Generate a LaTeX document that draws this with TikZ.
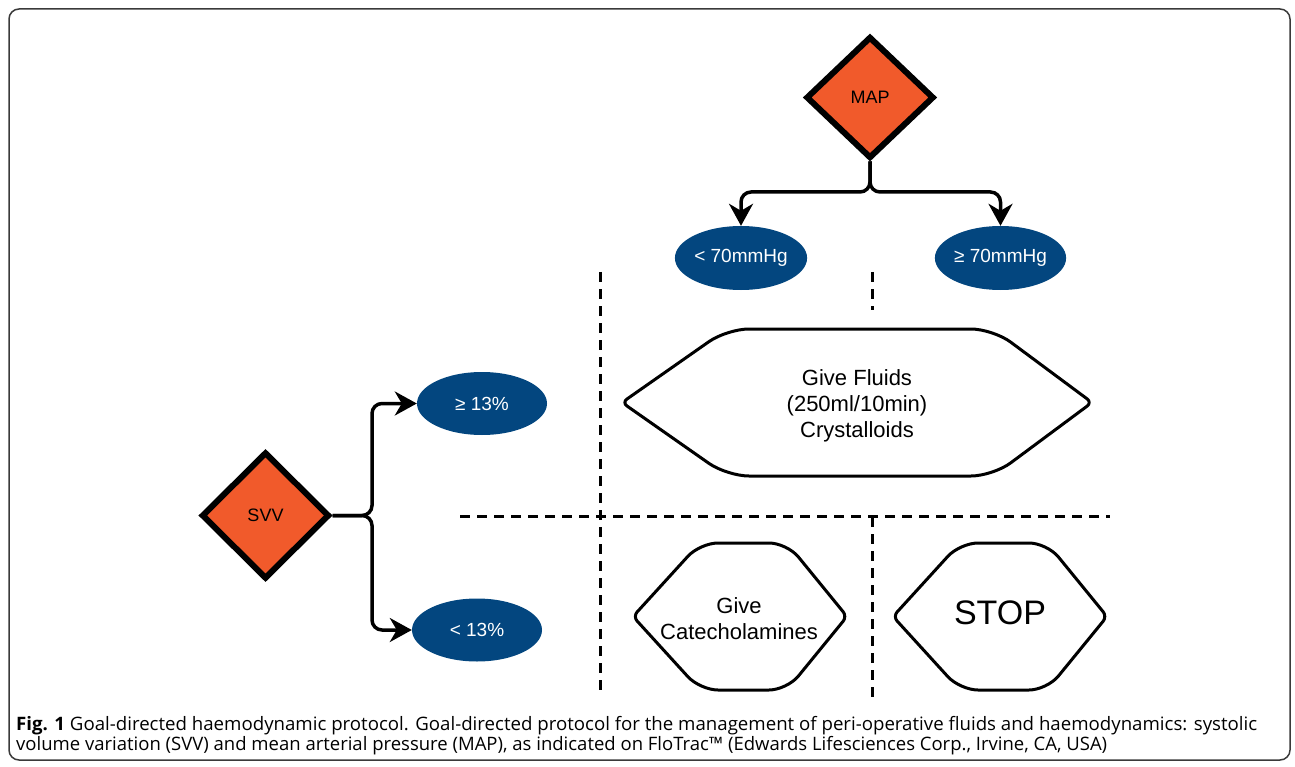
\documentclass[tikz,border=0pt]{standalone}
\usepackage{fontspec}
\setmainfont{Liberation Sans}
\newfontfamily\capfont{Open Sans}
\usetikzlibrary{shapes.geometric,arrows.meta}
\definecolor{maporange}{HTML}{F15A2B}
\definecolor{darkblue}{HTML}{03467F}
\definecolor{framegray}{HTML}{3A3A3A}
\newlength\mycapw
\newcommand\fitcaption[2]{%
  \settowidth\mycapw{\capfont\fontsize{18.5}{20}\selectfont #2}%
  \pgfmathsetmacro\mycapsx{#1/\mycapw}%
  \scalebox{\mycapsx}[1]{\capfont\fontsize{18.5}{20}\selectfont #2}}
\begin{document}
\begin{tikzpicture}[x=1pt,y=-1pt,
  decision/.style={diamond, draw=black, fill=maporange, line width=6pt, line join=miter,
    inner sep=0pt, minimum width=128pt, font=\fontsize{18}{20}\selectfont},
  outcome/.style={ellipse, fill=darkblue, text=white, inner sep=0pt,
    minimum width=130pt, minimum height=64pt, font=\fontsize{19}{22}\selectfont},
  conn/.style={line width=3.5pt, rounded corners=10pt,
    -{Stealth[length=22pt,width=24pt,inset=7pt]}},
  hexline/.style={draw=black, line width=3pt},
  hextext/.style={align=center, inner sep=0pt, font=\fontsize{22}{26}\selectfont},
  divider/.style={line width=3pt, dash pattern=on 10pt off 7pt},
  captext/.style={anchor=base west, inner sep=0pt}
]
\useasboundingbox (0,0) rectangle (1295,767);
\draw[framegray, line width=1.5pt, rounded corners=10pt] (9,9) rectangle (1290,760);

% dividers
\draw[divider] (600,272) -- (600,692);
\draw[divider] (872,272) -- (872,310);
\draw[divider] (872,517) -- (872,697);
\draw[divider] (460,516) -- (1110,516);

% MAP decision
\node[decision, minimum height=122pt] (map) at (870,97.5) {MAP};
\node[outcome] (lo70) at (741,258) {< 70mmHg};
\node[outcome] (hi70) at (1000.5,258) {≥ 70mmHg};
\draw[conn] (map.south) -- (870,192) -| (lo70.north);
\draw[conn] (map.south) -- (870,192) -| (hi70.north);

% SVV decision
\node[decision, minimum height=127pt] (svv) at (265.5,515.5) {SVV};
\node[outcome, minimum height=63pt] (hi13) at (482,403.5) {≥ 13\%};
\node[outcome, minimum height=63pt] (lo13) at (477,630) {< 13\%};
\draw[conn] (svv.east) -- (372,515.5) |- (hi13.west);
\draw[conn] (svv.east) -- (372,515.5) |- (lo13.west);

% action hexagons
\draw[hexline] [rounded corners=6pt] (622,402.5) [rounded corners=22pt] -- (727,329) -- (993,329)
  [rounded corners=6pt] -- (1092,402.5) [rounded corners=22pt] -- (993,476) -- (727,476)
  [rounded corners=6pt] -- cycle;
\node[hextext] (fluids) at (857,405.5) {Give Fluids\\(250ml/10min)\\Crystalloids};

\draw[hexline] [rounded corners=6pt] (633,616.5) [rounded corners=18pt] -- (700,543) -- (787,543)
  [rounded corners=6pt] -- (847,616.5) [rounded corners=18pt] -- (787,690) -- (700,690)
  [rounded corners=6pt] -- cycle;
\node[hextext] (cate) at (739,619) {Give\\Catecholamines};

\draw[hexline] [rounded corners=6pt] (893,616.5) [rounded corners=18pt] -- (960,543) -- (1047,543)
  [rounded corners=6pt] -- (1107,616.5) [rounded corners=18pt] -- (1047,690) -- (960,690)
  [rounded corners=6pt] -- cycle;
\node[hextext, font=\fontsize{34}{40}\selectfont] (stop) at (1000,613) {STOP};

% caption
\node[captext] (cap1) at (16,730.5) {\fitcaption{1241}{\textbf{Fig. 1} Goal-directed haemodynamic protocol. Goal-directed protocol for the management of peri-operative fluids and haemodynamics: systolic}};
\node[captext] (cap2) at (16,750.5) {\fitcaption{1091}{volume variation (SVV) and mean arterial pressure (MAP), as indicated on FloTrac™ (Edwards Lifesciences Corp., Irvine, CA, USA)}};
\end{tikzpicture}
\end{document}
